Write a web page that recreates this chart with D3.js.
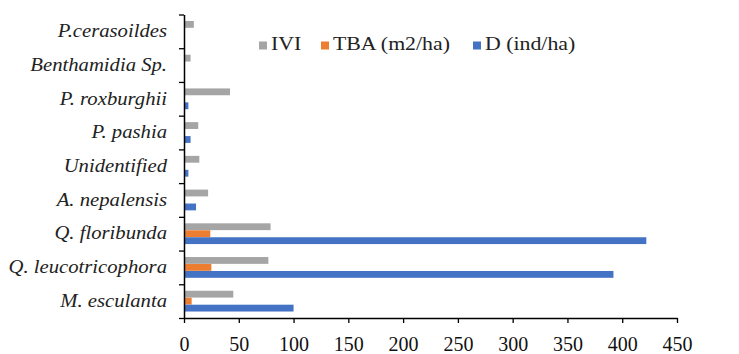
<!DOCTYPE html>
<html><head><meta charset="utf-8">
<script src="https://cdn.jsdelivr.net/npm/d3@7"></script>
<style>body{margin:0;background:#fff}svg{display:block}
text{font-family:"Liberation Serif","Times New Roman",Times,serif !important}</style>
</head><body>
<svg id="c" width="739" height="354"></svg>
<script>
const categories = ["P.cerasoildes","Benthamidia Sp.","P. roxburghii","P. pashia","Unidentified","A. nepalensis","Q. floribunda","Q. leucotricophora","M. esculanta"];
const seriesNames = ["IVI","TBA (m2/ha)","D (ind/ha)"];
const ivi = [9, 6, 42, 13, 14, 22, 79, 77, 45];
const tba = [0, 0, 0, 0, 0, 0, 24, 25, 7];
const dens = [0, 0, 4, 6, 4, 11, 422, 392, 100];
const xTicks = [0,50,100,150,200,250,300,350,400,450];
const colors = ["#A5A5A5","#ED7D31","#4472C4"];

const svg = d3.select("#c");
const L = 184, R = 677, T = 14.5, B = 318;
const x = d3.scaleLinear().domain([0,450]).range([L,R]);
const y0 = d3.scaleBand().domain(categories).range([T,B]).padding(0);
const y1 = d3.scaleBand().domain(seriesNames).range([0,y0.bandwidth()]).paddingInner(0.02).paddingOuter(0.93);
const series = [ivi,tba,dens];

const g = svg.append("g");
categories.forEach((c,i)=>{
  series.forEach((s,k)=>{
    g.append("rect")
      .attr("x", x(0))
      .attr("y", y0(c)+y1(seriesNames[k]))
      .attr("width", x(s[i])-x(0))
      .attr("height", y1.bandwidth())
      .attr("fill", colors[k]);
  });
});

// x axis
const xa = svg.append("g").attr("transform",`translate(0,${B})`)
  .call(d3.axisBottom(x).tickValues(xTicks).tickSize(5).tickSizeOuter(0).tickFormat(d3.format("d")));
xa.select(".domain").attr("stroke","#000").attr("stroke-width",1.5);
xa.selectAll(".tick line").attr("stroke","#000").attr("stroke-width",1.3);
xa.selectAll(".tick text").attr("font-size",20).attr("fill","#111").attr("dy","0").attr("y",33);

// y axis: tick marks at category boundaries
const yIdx = d3.scaleLinear().domain([0,categories.length]).range([T,B]);
const ya = svg.append("g").attr("transform",`translate(${L},0)`)
  .call(d3.axisLeft(yIdx).tickValues(d3.range(categories.length+1)).tickSize(5).tickSizeOuter(0).tickFormat(""));
ya.select(".domain").attr("stroke","#000").attr("stroke-width",1.5);
ya.selectAll(".tick line").attr("stroke","#000").attr("stroke-width",1.3);

// y labels
const yl = svg.append("g").attr("transform",`translate(${L-17},0)`)
  .call(d3.axisLeft(y0).tickSize(0).tickPadding(0));
yl.select(".domain").remove();
yl.selectAll(".tick text").attr("font-style","italic")
  .attr("font-size",18).attr("fill","#222").attr("transform","scale(1.15,1)");

// legend
const legX = [259, 321, 473];
const lg = svg.append("g");
seriesNames.forEach((n,k)=>{
  lg.append("rect").attr("x",legX[k]).attr("y",41.5).attr("width",8).attr("height",8).attr("fill",colors[k]);
  lg.append("text").attr("x",(legX[k]+12)/1.18).attr("y",50).attr("transform","scale(1.18,1)")
    .attr("font-size",18.5).attr("fill","#222").text(n);
});
</script>
</body></html>
